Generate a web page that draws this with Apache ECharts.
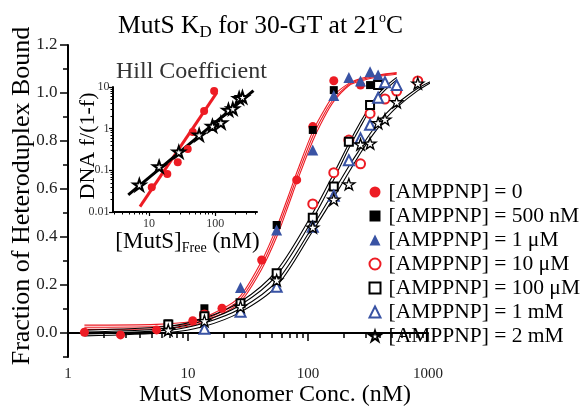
<!DOCTYPE html>
<html><head><meta charset="utf-8">
<script src="https://cdn.jsdelivr.net/npm/echarts@6/dist/echarts.min.js"></script>
<style>html,body{margin:0;padding:0;background:#fff}#c{width:587px;height:408px}</style>
</head><body><div id="c"></div>
<script>
// ---------- data ----------
const legendNames = ['[AMPPNP] = 0','[AMPPNP] = 500 nM','[AMPPNP] = 1 \u03bcM','[AMPPNP] = 10 \u03bcM','[AMPPNP] = 100 \u03bcM','[AMPPNP] = 1 mM','[AMPPNP] = 2 mM'];
const xMajorTicks = [1, 10, 100, 1000];
const xMinorTicks = [2,3,4,5,6,7,8,9,20,30,40,50,60,70,80,90,200,300,400,500,600,700,800,900];
const yMajorTicks = [0, 0.2, 0.4, 0.6, 0.8, 1.0, 1.2];
const yMinorTicks = [-0.1, 0.1, 0.3, 0.5, 0.7, 0.9, 1.1];
const insetXMajor = [10, 100];
const insetXMinor = [3,4,5,6,7,8,9,20,30,40,50,60,70,80,90,200,300,400];
const insetYMajor = [0.01, 0.1, 1, 10];
const insetYMinor = [0.02,0.03,0.04,0.05,0.06,0.07,0.08,0.09,0.2,0.3,0.4,0.5,0.6,0.7,0.8,0.9,2,3,4,5,6,7,8,9];

const amp0     = [[1.37,0.003],[2.74,-0.008],[5.48,0.013],[10.96,0.051],[19.2,0.103],[41.1,0.304],[80.5,0.638],[109.6,0.86],[164,1.051],[274,1.033]];
const amp500nM = [[6.85,0.04],[13.7,0.103],[54.8,0.45],[109.6,0.846],[164,1.012],[329,1.033]];
const amp1uM   = [[27.4,0.19],[54.8,0.429],[109.6,0.762],[164,0.99],[219,1.065],[274,1.05],[329,1.089],[384,1.075]];
const amp10uM  = [[13.7,0.075],[109.6,0.538],[164,0.668],[219,0.804],[274,0.705],[329,0.915],[438,0.975],[548,1.008],[822,1.05],[1096,1.033]];
const amp100uM = [[6.85,0.035],[13.7,0.07],[27.4,0.124],[54.8,0.249],[109.6,0.48],[164,0.61],[219,0.797],[329,0.95],[384,1.033]];
const amp1mM   = [[13.7,0.018],[27.4,0.089],[54.8,0.193],[109.6,0.443],[164,0.572],[219,0.72],[274,0.811],[329,0.868],[384,0.98],[438,1.045],[548,1.033]];
const amp2mM   = [[6.85,0.012],[13.7,0.05],[27.4,0.11],[54.8,0.22],[109.6,0.44],[164,0.556],[219,0.62],[274,0.786],[329,0.79],[384,0.875],[438,0.89],[548,0.962],[822,1.04],[1096,1.035]];

// fitted curves
const redFitX = [1.37,5.48,10.96,19.2,27.4,41.1,54.8,68.5,82.2,109.6,137,164,219,274,384,548];
const redFitA = [0.033,0.036,0.05,0.1,0.155,0.3,0.44,0.57,0.68,0.84,0.93,0.99,1.04,1.06,1.075,1.085];
const redFitB = [0.024,0.027,0.04,0.09,0.142,0.282,0.42,0.55,0.66,0.82,0.915,0.975,1.035,1.055,1.072,1.082];
const redFitC = [0.015,0.018,0.031,0.08,0.13,0.266,0.4,0.53,0.64,0.8,0.9,0.965,1.03,1.05,1.068,1.078];
const blkFitX = [1.37,6.85,13.7,27.4,54.8,109.6,164,219,274,329,384,438,548,822,1096];
const blkFit1 = [0.012,0.028,0.062,0.13,0.26,0.5,0.665,0.79,0.88,0.945,0.995,1.025,1.065];
const blkFit2 = [0.004,0.02,0.052,0.117,0.24,0.475,0.64,0.77,0.86,0.93,0.98,1.012,1.055];
const blkFit3 = [-0.004,0.012,0.042,0.102,0.215,0.445,0.59,0.695,0.77,0.83,0.875,0.91,0.955,1.02,1.052];
const blkFit4 = [-0.012,0.002,0.028,0.087,0.195,0.425,0.565,0.67,0.75,0.81,0.855,0.89,0.94,1.01,1.048];

// inset (Hill plot)
const hillRedPts  = [[11.0,0.039],[18.9,0.082],[27.2,0.156],[38.5,0.326],[45.9,0.834],[68.1,2.66],[96.6,8.0]];
const hillRedFit  = [[7.3,0.0135],[106,7.3]];
const hillStarPts = [[7.13,0.0447],[14.2,0.123],[28.2,0.276],[57.3,0.706],[91,1.16],[122,1.39],[159,2.8],[185,3.02],[231,5.36],[259,5.66]];
const hillBlkFit  = [[4.85,0.0257],[380,8.15]];

// ---------- styling ----------
const FONT = '"Liberation Serif","Times New Roman",serif';
const RED = '#ed1c24', BLUE = '#3953a4', BLK = '#000';
const STAR = 'path://M50,0L61.2,34.5L97.6,34.5L68.2,55.9L79.4,90.5L50,69.1L20.6,90.5L31.8,55.9L2.4,34.5L38.8,34.5Z';

function sc(name, data, symbol, size, fill, border, bw, xi, yi) {
  return {type:'scatter', name, data, symbol, symbolSize:size, symbolKeepAspect:true,
    xAxisIndex:xi||0, yAxisIndex:yi||0, z:5, silent:true,
    itemStyle:{color:fill, borderColor:border, borderWidth:bw, opacity:1}};
}
function fit(xs, ys, color, w) {
  return {type:'line', data: ys.map((y,i)=>[xs[i], y]), showSymbol:false, smooth:0.3,
    xAxisIndex:0, yAxisIndex:0, lineStyle:{color, width:w}, z:2, silent:true};
}
function seg(data, color, w) {
  return {type:'line', data, showSymbol:false, xAxisIndex:2, yAxisIndex:2,
    lineStyle:{color, width:w}, z:3, silent:true};
}
const fmtNum = v => { const r = Math.round(v*1000)/1000; return String(r); };

const chart = echarts.init(document.getElementById('c'), null, {renderer:'canvas'});
chart.setOption({
  animation:false,
  backgroundColor:'#fff',
  title:[
    {text:'{a|MutS K}{s|D}{a| for 30-GT at 21}{p|o}{a|C}', left:118, top:11, padding:0,
     textStyle:{fontWeight:'normal', rich:{
       a:{fontFamily:FONT, fontSize:25.5, color:'#000', lineHeight:30},
       s:{fontFamily:FONT, fontSize:17, color:'#000', lineHeight:17, verticalAlign:'bottom'},
       p:{fontFamily:FONT, fontSize:14, color:'#000', lineHeight:14, verticalAlign:'top'}}}},
    {text:'Hill Coefficient', left:116, top:59.6, padding:0,
     textStyle:{fontFamily:FONT, fontSize:24, fontWeight:'normal', color:'#333'}}
  ],
  graphic:[
    {type:'text', x:275, y:395, silent:true,
     style:{text:'MutS Monomer Conc. (nM)', font:'24px "Liberation Serif", serif', fill:'#000',
            textAlign:'center', textVerticalAlign:'middle'}}
  ],
  legend:{orient:'vertical', left:368.5, top:181, padding:0, itemWidth:11, itemHeight:11, itemGap:2,
    selectedMode:false, data:legendNames,
    textStyle:{fontFamily:FONT, fontSize:21.5, color:'#000', lineHeight:20, padding:[0,0,0,3]}},
  grid:[
    {left:68, top:45, width:360, height:312},
    {left:113, top:87, width:144, height:125}
  ],
  xAxis:[
    {type:'log', logBase:10, gridIndex:0, min:1, max:1000, position:'bottom',
     axisLine:{show:true, lineStyle:{color:BLK, width:2}},
     axisTick:{show:true, inside:false, length:8, lineStyle:{color:BLK, width:1.5}, customValues:xMajorTicks},
     axisLabel:{show:true, margin:9.5, fontFamily:FONT, fontSize:15, color:'#222', customValues:xMajorTicks,
       formatter:v=>String(Math.round(v))},
     splitLine:{show:false}, minorTick:{show:false}},
    {type:'log', logBase:10, gridIndex:0, min:1, max:1000, position:'bottom',
     axisLine:{show:false},
     axisTick:{show:true, inside:false, length:5, lineStyle:{color:BLK, width:1.5}, customValues:xMinorTicks},
     axisLabel:{show:false}, splitLine:{show:false}},
    {type:'log', logBase:10, gridIndex:1, min:2.85, max:430, position:'bottom',
     name:'{a|[MutS]}{s|Free}{a| (nM)}', nameLocation:'middle', nameGap:17, nameMoveOverlap:false,
     nameTextStyle:{padding:[0,0,0,5], rich:{
       a:{fontFamily:FONT, fontSize:23, color:'#000', lineHeight:26},
       s:{fontFamily:FONT, fontSize:14, color:'#000', lineHeight:14, verticalAlign:'bottom'}}},
     axisLine:{show:true, lineStyle:{color:BLK, width:2}},
     axisTick:{show:true, inside:false, length:4, lineStyle:{color:BLK, width:1.2}, customValues:insetXMajor},
     axisLabel:{show:true, margin:5.5, fontFamily:FONT, fontSize:12, color:'#333', customValues:insetXMajor,
       formatter:v=>String(Math.round(v))},
     splitLine:{show:false}},
    {type:'log', logBase:10, gridIndex:1, min:2.85, max:430, position:'bottom',
     axisLine:{show:false},
     axisTick:{show:true, inside:false, length:2.5, lineStyle:{color:BLK, width:1}, customValues:insetXMinor},
     axisLabel:{show:false}, splitLine:{show:false}}
  ],
  yAxis:[
    {type:'value', gridIndex:0, min:-0.1, max:1.2, position:'left',
     name:'Fraction of Heteroduplex Bound', nameLocation:'middle', nameGap:33, nameRotate:90, nameMoveOverlap:false,
     nameTextStyle:{fontFamily:FONT, fontSize:26, color:'#000', padding:[0,0,0,10]},
     axisLine:{show:true, lineStyle:{color:BLK, width:2}},
     axisTick:{show:true, inside:false, length:8, lineStyle:{color:BLK, width:1.5}, customValues:yMajorTicks},
     axisLabel:{show:true, margin:10.5, fontFamily:FONT, fontSize:17, color:'#222', customValues:yMajorTicks,
       formatter:v=>v.toFixed(1)},
     splitLine:{show:false}},
    {type:'value', gridIndex:0, min:-0.1, max:1.2, position:'left',
     axisLine:{show:false},
     axisTick:{show:true, inside:false, length:5, lineStyle:{color:BLK, width:1.5}, customValues:yMinorTicks},
     axisLabel:{show:false}, splitLine:{show:false}},
    {type:'log', logBase:10, gridIndex:1, min:0.01, max:10, position:'left',
     name:'DNA f/(1-f)', nameLocation:'middle', nameGap:14, nameRotate:90, nameMoveOverlap:false,
     nameTextStyle:{fontFamily:FONT, fontSize:22, color:'#000', padding:[0,0,0,7]},
     axisLine:{show:true, lineStyle:{color:BLK, width:2}},
     axisTick:{show:true, inside:false, length:4, lineStyle:{color:BLK, width:1.2}, customValues:insetYMajor},
     axisLabel:{show:true, margin:3.5, fontFamily:FONT, fontSize:12, color:'#333', customValues:insetYMajor,
       formatter:fmtNum},
     splitLine:{show:false}},
    {type:'log', logBase:10, gridIndex:1, min:0.01, max:10, position:'left',
     axisLine:{show:false},
     axisTick:{show:true, inside:false, length:2.5, lineStyle:{color:BLK, width:1}, customValues:insetYMinor},
     axisLabel:{show:false}, splitLine:{show:false}}
  ],
  series:[
    fit(redFitX, redFitA, RED, 1.1),
    fit(redFitX, redFitB, RED, 1.1),
    fit(redFitX, redFitC, RED, 1.1),
    fit(blkFitX, blkFit1, BLK, 1.1),
    fit(blkFitX, blkFit2, BLK, 1.1),
    fit(blkFitX, blkFit3, BLK, 1.1),
    fit(blkFitX, blkFit4, BLK, 1.1),
    sc(legendNames[0], amp0, 'circle', 9, RED, RED, 0),
    sc(legendNames[1], amp500nM, 'rect', 8, BLK, BLK, 0),
    sc(legendNames[2], amp1uM, 'triangle', 11, BLUE, BLUE, 0),
    sc(legendNames[3], amp10uM, 'circle', 9, '#fff', RED, 2),
    sc(legendNames[4], amp100uM, 'rect', 8, '#fff', BLK, 2),
    sc(legendNames[5], amp1mM, 'triangle', 10, '#fff', BLUE, 2),
    sc(legendNames[6], amp2mM, STAR, 12, '#fff', BLK, 1.3),
    seg(hillRedFit, RED, 3),
    seg(hillBlkFit, BLK, 3),
    sc('hillRed', hillRedPts, 'circle', 8, RED, RED, 0, 2, 2),
    sc('hillStar', hillStarPts, STAR, 12, '#fff', BLK, 2, 2, 2)
  ]
});
</script></body></html>
